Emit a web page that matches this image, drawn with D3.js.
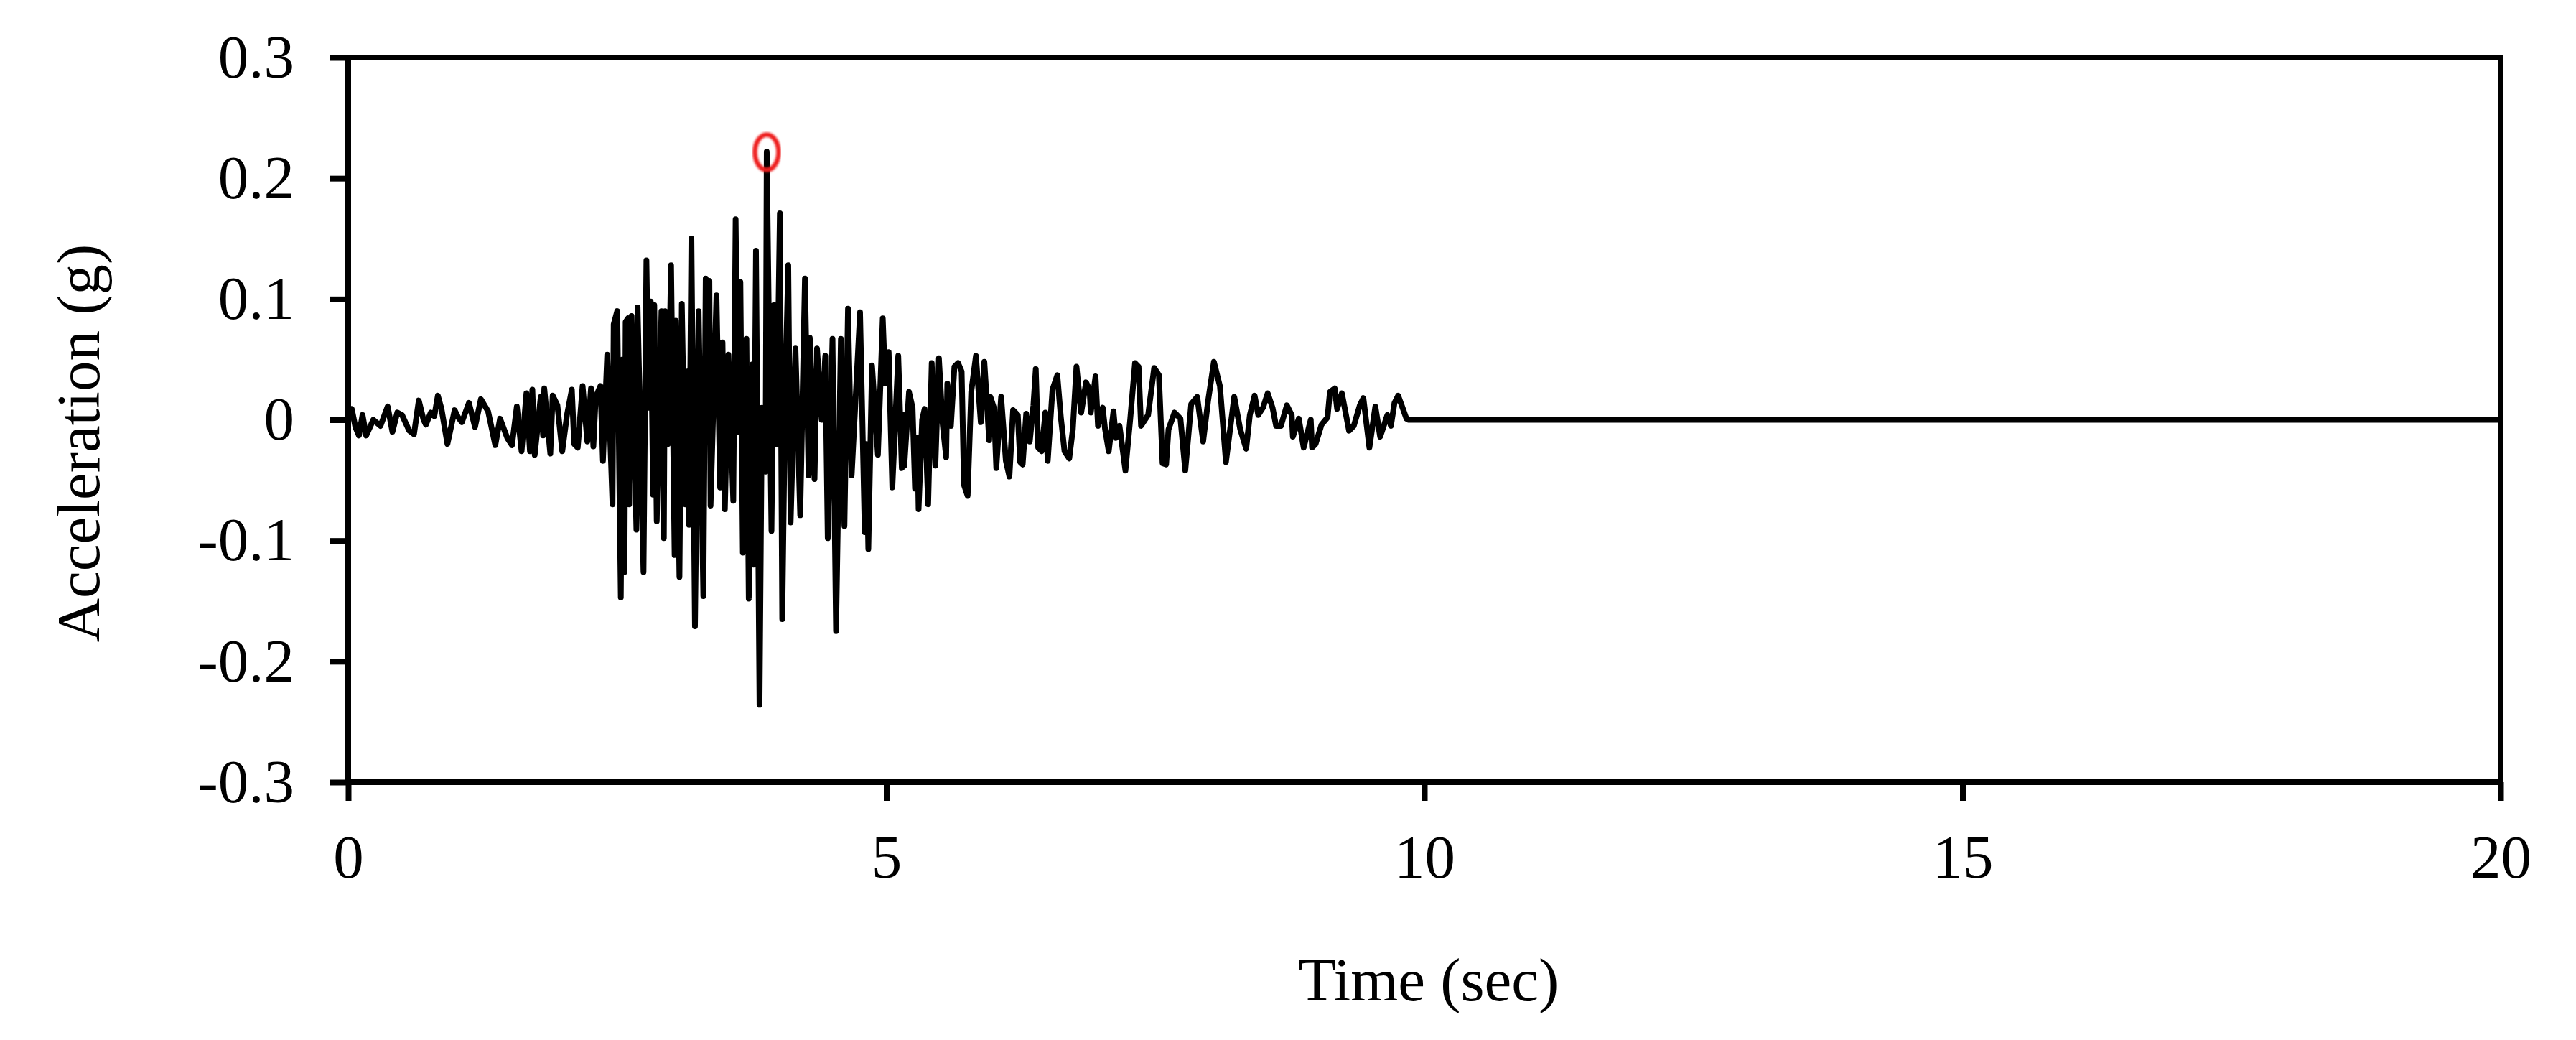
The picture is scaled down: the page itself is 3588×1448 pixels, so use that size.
<!DOCTYPE html>
<html><head><meta charset="utf-8">
<script src="https://cdn.jsdelivr.net/npm/d3@7/dist/d3.min.js"></script>
<style>body{margin:0;background:#fff}svg{display:block}</style>
</head><body>
<script>
// ---- data ----
const time = [
0.000,0.033,0.067,0.100,0.133,0.167,0.233,0.300,0.367,0.411,0.456,0.500,0.567,0.611,0.656,0.700,0.722,0.767,0.800,0.833,
0.867,0.922,0.989,1.022,1.056,1.122,1.178,1.233,1.300,1.367,1.411,1.478,1.522,1.567,1.611,1.656,1.689,1.711,1.733,1.789,
1.811,1.822,1.878,1.900,1.944,1.989,2.033,2.078,2.100,2.133,2.178,2.222,2.256,2.278,2.300,2.344,2.367,2.407,2.456,2.467,
2.500,2.533,2.550,2.567,2.578,2.600,2.611,2.633,2.678,2.689,2.744,2.771,2.792,2.811,2.833,2.844,2.867,2.911,2.933,2.944,
2.970,3.000,3.033,3.044,3.078,3.100,3.133,3.150,3.167,3.189,3.222,3.256,3.300,3.322,3.340,3.356,3.367,3.422,3.456,3.478,
3.500,3.533,3.578,3.600,3.622,3.644,3.667,3.700,3.722,3.756,3.767,3.789,3.822,3.844,3.878,3.889,3.933,3.956,3.980,4.011,
4.033,4.060,4.089,4.111,4.156,4.200,4.244,4.278,4.289,4.333,4.356,4.400,4.433,4.456,4.500,4.533,4.578,4.611,4.644,4.678,
4.756,4.800,4.815,4.833,4.867,4.922,4.967,4.990,5.022,5.056,5.111,5.144,5.156,5.167,5.211,5.244,5.267,5.289,5.300,5.333,
5.356,5.389,5.422,5.456,5.489,5.522,5.556,5.567,5.600,5.633,5.667,5.700,5.722,5.756,5.789,5.833,5.878,5.911,5.956,5.967,
6.000,6.022,6.067,6.111,6.144,6.178,6.222,6.244,6.267,6.300,6.333,6.367,6.389,6.411,6.444,6.478,6.500,6.544,6.589,6.622,
6.656,6.700,6.733,6.767,6.811,6.856,6.889,6.900,6.944,6.967,7.011,7.033,7.067,7.111,7.133,7.167,7.222,7.267,7.311,7.344,
7.367,7.433,7.489,7.533,7.567,7.600,7.622,7.678,7.733,7.778,7.833,7.889,7.944,7.989,8.044,8.100,8.156,8.233,8.289,8.344,
8.378,8.422,8.456,8.500,8.544,8.589,8.622,8.667,8.722,8.767,8.778,8.833,8.878,8.944,8.956,8.989,9.044,9.100,9.122,9.167,
9.189,9.233,9.300,9.344,9.400,9.433,9.489,9.544,9.589,9.656,9.689,9.722,9.756,9.789,9.833,9.850,20.000
];
const accel = [
0.000,0.009,-0.006,-0.013,0.004,-0.013,0.000,-0.005,0.011,-0.010,0.006,0.004,-0.009,-0.012,0.016,0.000,-0.004,0.006,0.003,0.020,
0.009,-0.020,0.008,0.002,-0.002,0.014,-0.006,0.017,0.007,-0.021,0.001,-0.015,-0.021,0.011,-0.026,0.022,-0.026,0.025,-0.029,0.019,
-0.013,0.026,-0.028,0.020,0.012,-0.026,0.004,0.025,-0.020,-0.023,0.028,-0.018,0.026,-0.022,0.019,0.028,-0.034,0.054,-0.070,0.079,
0.090,-0.147,0.050,-0.126,0.081,0.084,-0.070,0.086,-0.091,0.093,-0.126,0.132,0.010,0.098,-0.062,0.095,-0.084,0.090,-0.098,0.090,
-0.020,0.128,-0.112,0.082,-0.130,0.096,-0.070,0.040,-0.087,0.150,-0.171,0.090,-0.146,0.117,0.000,0.115,-0.071,0.103,-0.056,0.064,
-0.074,0.054,-0.067,0.166,-0.010,0.114,-0.110,0.067,-0.148,0.046,-0.120,0.140,-0.236,0.010,-0.043,0.222,-0.092,0.095,-0.020,0.171,
-0.165,0.020,0.128,-0.085,0.059,-0.079,0.117,-0.046,0.068,-0.049,0.059,0.000,0.053,-0.098,0.067,-0.175,0.067,-0.088,0.092,-0.046,
0.089,-0.093,-0.020,-0.107,0.045,-0.029,0.084,0.030,0.056,-0.056,0.053,-0.040,0.004,-0.038,0.023,0.010,-0.057,-0.015,-0.074,0.000,
0.009,-0.070,0.047,-0.038,0.051,-0.002,-0.031,0.030,-0.005,0.044,0.047,0.040,-0.054,-0.063,0.023,0.053,-0.002,0.048,-0.017,0.019,
0.010,-0.040,0.019,-0.034,-0.047,0.008,0.004,-0.035,-0.037,0.005,-0.018,0.012,0.042,-0.023,-0.026,0.006,-0.034,0.025,0.037,0.002,
-0.026,-0.032,-0.008,0.044,0.006,0.031,0.025,0.006,0.036,-0.005,0.010,-0.008,-0.026,0.007,-0.015,-0.005,-0.042,0.001,0.047,0.044,
-0.005,0.004,0.043,0.037,-0.036,-0.037,-0.008,0.006,0.001,-0.042,0.013,0.019,-0.018,0.015,0.048,0.028,-0.035,0.019,-0.008,-0.024,
0.004,0.020,0.004,0.010,0.022,0.010,-0.005,-0.005,0.012,0.004,-0.014,0.001,-0.023,0.000,-0.023,-0.020,-0.004,0.002,0.023,0.026,
0.009,0.022,-0.009,-0.005,0.012,0.018,-0.023,0.011,-0.014,0.004,-0.005,0.014,0.020,0.012,0.001,0.000,0.000
];
const peakTime = 3.889;
const peakAccel = 0.2215;
const xTicks = [0, 5, 10, 15, 20];
const xTickLabels = ["0", "5", "10", "15", "20"];
const yTicks = [0.3, 0.2, 0.1, 0, -0.1, -0.2, -0.3];
const yTickLabels = ["0.3", "0.2", "0.1", "0", "-0.1", "-0.2", "-0.3"];
const xTitle = "Time (sec)";
const yTitle = "Acceleration (g)";

// ---- layout ----
const W = 3588, H = 1448;
const L = 485, R = 3483, T = 80, B = 1089;
const FONT = "'Liberation Serif', 'Times New Roman', serif";

const svg = d3.select("body").append("svg").attr("width", W).attr("height", H)
  .style("font-family", FONT);
svg.append("rect").attr("width", W).attr("height", H).attr("fill", "#fff");

const x = d3.scaleLinear().domain([0, 20]).range([L, R]);
const y = d3.scaleLinear().domain([-0.3, 0.3]).range([B, T]);

const defs = svg.append("defs");
defs.append("filter").attr("id", "soft").append("feGaussianBlur").attr("stdDeviation", 1.4);

// signal
const pts = time.map((t, i) => [t, accel[i]]);
svg.append("path").datum(pts)
  .attr("fill", "none").attr("stroke", "#000").attr("stroke-width", 8)
  .attr("stroke-linejoin", "round").attr("stroke-linecap", "round")
  .attr("d", d3.line().x(d => x(d[0])).y(d => y(d[1])));

// peak marker
svg.append("ellipse")
  .attr("cx", x(peakTime)).attr("cy", y(peakAccel))
  .attr("rx", 16.5).attr("ry", 24.5)
  .attr("fill", "none").attr("stroke", "#ee1b1b").attr("stroke-width", 6.5)
  .attr("filter", "url(#soft)");

// axes
const yAxis = d3.axisLeft(y).tickValues(yTicks)
  .tickFormat((d, i) => yTickLabels[i]).tickSize(25).tickPadding(50).tickSizeOuter(0);
const gy = svg.append("g").attr("transform", `translate(${L},0)`).call(yAxis);

const xAxis = d3.axisBottom(x).tickValues(xTicks)
  .tickFormat((d, i) => xTickLabels[i]).tickSize(26).tickPadding(47).tickSizeOuter(0);
const gx = svg.append("g").attr("transform", `translate(0,${B})`).call(xAxis);

[gx, gy].forEach(g => {
  g.select(".domain").remove();
  g.selectAll(".tick line").attr("stroke", "#000").attr("stroke-width", 8);
  g.selectAll(".tick text").attr("fill", "#000").style("font-size", "85px").style("font-family", FONT);
});

// frame
svg.append("rect").attr("x", L).attr("y", T).attr("width", R - L).attr("height", B - T)
  .attr("fill", "none").attr("stroke", "#000").attr("stroke-width", 8);

// titles
svg.append("text").attr("x", (L + R) / 2 + 6).attr("y", 1393)
  .attr("text-anchor", "middle").style("font-size", "85px").attr("fill", "#000").text(xTitle);
svg.append("text").attr("transform", `translate(138,617) rotate(-90)`)
  .attr("text-anchor", "middle").style("font-size", "85px").attr("fill", "#000").text(yTitle);
</script>
</body></html>
